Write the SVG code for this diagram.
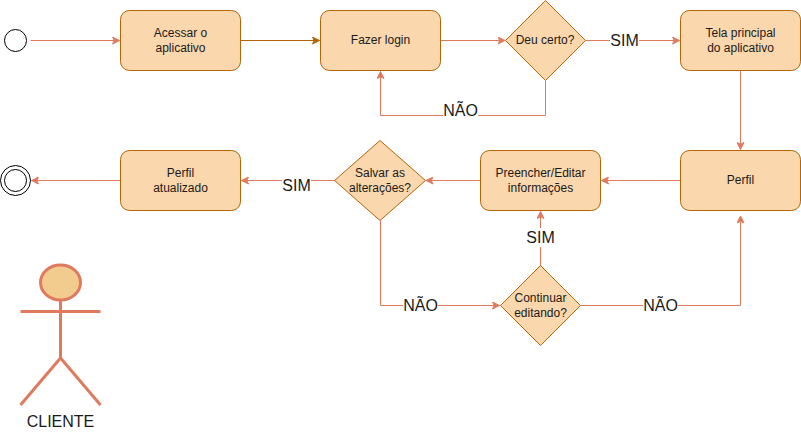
<svg xmlns="http://www.w3.org/2000/svg" width="801" height="432" viewBox="0 0 801 432">
<style>
text{font-family:"Liberation Sans",Arial,sans-serif;fill:#1a1a1a;text-anchor:middle}
.n{fill:#fad7ac;stroke:#b46504;stroke-width:1}
.t{font-size:12px}
.e{fill:none;stroke:#e07a5f;stroke-width:1}
.b{stroke:#b46504}
.l{font-size:16px}
.bg{fill:#fff}
.c{fill:#fff;stroke:#000;stroke-width:1}
.a{fill:none;stroke:#e07a5f;stroke-width:2}
</style>
<defs>
<marker id="ar" viewBox="0 0 8 8" refX="7.5" refY="4" markerWidth="8" markerHeight="8" markerUnits="userSpaceOnUse" orient="auto"><path d="M0.5 0.5L7.5 4L0.5 7.5L2.2 4Z" fill="#e07a5f" stroke="#e07a5f"/></marker>
<marker id="ab" viewBox="0 0 8 8" refX="7.5" refY="4" markerWidth="8" markerHeight="8" markerUnits="userSpaceOnUse" orient="auto"><path d="M0.5 0.5L7.5 4L0.5 7.5L2.2 4Z" fill="#b46504" stroke="#b46504"/></marker>
</defs>
<g id="connectors">
<path class="e" marker-end="url(#ar)" d="M30.5 40.5H119.5"/>
<path class="e b" marker-end="url(#ab)" d="M240.5 40.5H319.5"/>
<path class="e" marker-end="url(#ar)" d="M440.5 40.5H505"/>
<path class="e" marker-end="url(#ar)" d="M585.5 40.5H679.5"/>
<path class="e" marker-end="url(#ar)" d="M545.5 80.5V115.5H380.5V71.5"/>
<path class="e" marker-end="url(#ar)" d="M740.5 70.5V149.5"/>
<path class="e" marker-end="url(#ar)" d="M680.5 180.5H601.5"/>
<path class="e" marker-end="url(#ar)" d="M480.5 180.5H426"/>
<path class="e" marker-end="url(#ar)" d="M335.5 180.5H241.5"/>
<path class="e" marker-end="url(#ar)" d="M120.5 180.5H31.5"/>
<path class="e" marker-end="url(#ar)" d="M380.5 220.5V305.5H499.5"/>
<path class="e" marker-end="url(#ar)" d="M540.5 265.5V211.5"/>
<path class="e" marker-end="url(#ar)" d="M580.5 305.5H740.5V216"/>
<g id="edge-labels">
<rect class="bg" x="610" y="31" width="29" height="19"/><text class="l" x="624.5" y="46">SIM</text>
<rect class="bg" x="443" y="106" width="35" height="19"/><text class="l" x="460.5" y="116">NÃO</text>
<rect class="bg" x="282" y="176" width="29" height="19"/><text class="l" x="296.5" y="191">SIM</text>
<rect class="bg" x="526" y="228" width="29" height="19"/><text class="l" x="540.5" y="243">SIM</text>
<rect class="bg" x="403" y="296" width="35" height="19"/><text class="l" x="420.5" y="311">NÃO</text>
<rect class="bg" x="643" y="296" width="35" height="19"/><text class="l" x="660.5" y="311">NÃO</text>
</g>
</g>
<g id="start"><circle class="c" cx="15.5" cy="40.5" r="11"/></g>
<g id="end"><circle class="c" cx="15.5" cy="180.5" r="15"/><circle class="c" cx="15.5" cy="180.5" r="11"/></g>
<g id="acessar"><rect class="n" x="120.5" y="10.5" width="120" height="60" rx="9"/><text class="t" x="180.5" y="37">Acessar o</text><text class="t" x="180.5" y="52">aplicativo</text></g>
<g id="login"><rect class="n" x="320.5" y="10.5" width="120" height="60" rx="9"/><text class="t" x="380.5" y="44">Fazer login</text></g>
<g id="deu-certo"><path class="n" d="M545.5 0.5L585.5 40.5L545.5 80.5L505.5 40.5Z"/><text class="t" x="545" y="44">Deu certo?</text></g>
<g id="tela"><rect class="n" x="680.5" y="10.5" width="120" height="60" rx="9"/><text class="t" x="740.5" y="37">Tela principal</text><text class="t" x="740.5" y="52">do aplicativo</text></g>
<g id="perfil"><rect class="n" x="680.5" y="150.5" width="120" height="60" rx="9"/><text class="t" x="740.5" y="184">Perfil</text></g>
<g id="preencher"><rect class="n" x="480.5" y="150.5" width="120" height="60" rx="9"/><text class="t" x="540.5" y="177">Preencher/Editar</text><text class="t" x="540.5" y="192">informações</text></g>
<g id="salvar"><path class="n" d="M380 140.5L425.5 180.5L380 220.5L334.5 180.5Z"/><text class="t" x="380" y="177">Salvar as</text><text class="t" x="380" y="192">alterações?</text></g>
<g id="perfil-atualizado"><rect class="n" x="120.5" y="150.5" width="120" height="60" rx="9"/><text class="t" x="180.5" y="177">Perfil</text><text class="t" x="180.5" y="192">atualizado</text></g>
<g id="continuar"><path class="n" d="M540.5 265.5L580.5 305.5L540.5 345.5L500.5 305.5Z"/><text class="t" x="540.5" y="302">Continuar</text><text class="t" x="540.5" y="317">editando?</text></g>
<g id="cliente">
<ellipse cx="60.5" cy="282.5" rx="20" ry="17.5" fill="#f2cc8f" stroke="#e07a5f" stroke-width="3"/>
<path class="a" stroke-width="3" style="stroke-width:3" d="M60.5 300V358M20.5 311.5H100.5M60.5 358L20.5 405M60.5 358L100.5 405"/>
<text x="60.5" y="427" font-size="16">CLIENTE</text>
</g>
</svg>
